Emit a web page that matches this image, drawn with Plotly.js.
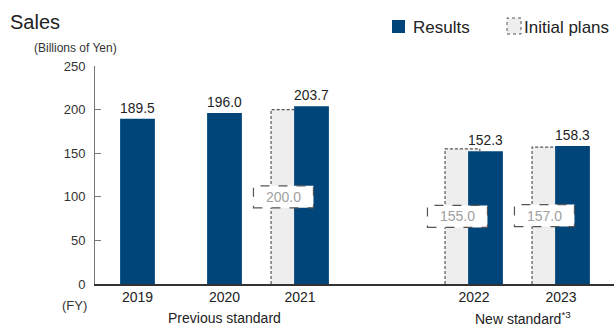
<!DOCTYPE html>
<html>
<head>
<meta charset="utf-8">
<script src="https://cdn.plot.ly/plotly-3.0.1.min.js"></script>
<style>html,body{margin:0;padding:0;background:#fff;}#chart{width:616px;height:327px;}</style>
</head>
<body>
<div id="chart"></div>
<script>
// ---- data ----
const years = ['2019', '2020', '2021', '2022', '2023'];
const slots = [0, 1, 2, 4, 5];            // category slot of each fiscal year (gap between standards)
const results = [189.5, 196.0, 203.7, 152.3, 158.3];
const planYears = ['2021', '2022', '2023'];
const plans = [200.0, 155.0, 157.0];
const groupLabels = ['Previous standard', 'New standard<sup>*3</sup>'];
const groupYears = [['2019', '2020', '2021'], ['2022', '2023']];

// ---- style ----
const FONT = '"Liberation Sans", Arial, sans-serif';
const BLUE = '#00457a';
const PLAN_FILL = '#eeeeee';
const DASH = '#555555';
const BAR_W = 0.40;
const PLAN_OFF = 0.265;

const M = {l: 95, r: 2, t: 66, b: 43};
const W = 616, H = 327;
const PW = W - M.l - M.r, PH = H - M.t - M.b;
const px = x => (x - M.l) / PW;            // page pixel -> paper x
const py = y => (H - M.b - y) / PH;        // page pixel -> paper y

const slotOf = y => slots[years.indexOf(y)];
const planX = planYears.map(y => slotOf(y) - PLAN_OFF);
const resOfPlan = planYears.map(y => results[years.indexOf(y)]);

// dashed outline for plan bars (parts not hidden by the result bar)
const olX = [], olY = [];
planX.forEach((x, i) => {
  const x0 = x - BAR_W / 2, x1 = x + BAR_W / 2;
  const resLeft = slotOf(planYears[i]) - BAR_W / 2;
  if (plans[i] > resOfPlan[i]) {
    olX.push(x0, x0, x1, x1, null);
    olY.push(0, plans[i], plans[i], resOfPlan[i], null);
  } else {
    olX.push(x0, x0, resLeft, null);
    olY.push(0, plans[i], plans[i], null);
  }
});

// tick positions: centre of each year's group
const tickX = years.map(y => {
  const s = slotOf(y);
  return planYears.includes(y) ? s - PLAN_OFF / 2 : s;
});

const traces = [
  {type: 'bar', x: planX, y: plans, width: BAR_W, marker: {color: PLAN_FILL, line: {width: 0}},
   hoverinfo: 'skip', showlegend: false},
  {type: 'bar', x: slots, y: results, width: BAR_W, marker: {color: BLUE, line: {width: 0}},
   text: results.map(v => v.toFixed(1)), textposition: 'outside', cliponaxis: false,
   textfont: {family: FONT, size: 14, color: '#222'}, showlegend: false},
  {type: 'scatter', mode: 'lines', x: olX, y: olY, line: {color: DASH, width: 1.2, dash: '3px,2px'},
   hoverinfo: 'skip', showlegend: false}
];

const shapes = [], annotations = [];
// plan value boxes
planX.forEach((x, i) => {
  shapes.push({type: 'rect', xref: 'x', yref: 'y', xsizemode: 'pixel', ysizemode: 'pixel',
    xanchor: x, yanchor: plans[i] / 2, x0: -35, x1: 25, y0: -11, y1: 11,
    line: {color: DASH, width: 1.2, dash: 'dash'}, fillcolor: '#ffffff', layer: 'above'});
  annotations.push({xref: 'x', yref: 'y', x: x, y: plans[i] / 2, xshift: -5, xanchor: 'center', yanchor: 'middle',
    text: plans[i].toFixed(1), showarrow: false, font: {family: FONT, size: 14, color: '#a0a0a0'}});
});
// group labels
groupLabels.forEach((g, i) => {
  const xs = groupYears[i].map(y => tickX[years.indexOf(y)]);
  const c = i === 0 ? xs[1] : (xs[0] + xs[xs.length - 1]) / 2;
  annotations.push({xref: 'x', yref: 'paper', x: c, y: py(318), xanchor: 'center', yanchor: 'middle', text: g,
    xshift: i === 0 ? 0 : 6, showarrow: false, font: {family: FONT, size: 14, color: '#222'}});
});
// titles
annotations.push({xref: 'paper', yref: 'paper', x: px(8), y: py(22), xanchor: 'left', yanchor: 'middle', text: 'Sales',
  showarrow: false, font: {family: FONT, size: 20, color: '#222'}});
annotations.push({xref: 'paper', yref: 'paper', x: px(75), y: py(48), xanchor: 'center', yanchor: 'middle',
  text: '(Billions of Yen)', showarrow: false, font: {family: FONT, size: 12, color: '#333'}});
annotations.push({xref: 'paper', yref: 'paper', x: px(89), y: py(305), xanchor: 'right', yanchor: 'middle', text: '(FY)',
  showarrow: false, font: {family: FONT, size: 13, color: '#333'}});
// legend
shapes.push({type: 'rect', xref: 'paper', yref: 'paper', x0: px(392), x1: px(405), y0: py(33), y1: py(20),
  fillcolor: BLUE, line: {width: 0}});
annotations.push({xref: 'paper', yref: 'paper', x: px(411), y: py(27), xanchor: 'left', yanchor: 'middle', text: 'Results',
  showarrow: false, font: {family: FONT, size: 17, color: '#222'}});
shapes.push({type: 'rect', xref: 'paper', yref: 'paper', x0: px(507), x1: px(521), y0: py(34), y1: py(18),
  fillcolor: PLAN_FILL, line: {color: DASH, width: 1, dash: 'dot'}});
annotations.push({xref: 'paper', yref: 'paper', x: px(522), y: py(27), xanchor: 'left', yanchor: 'middle', text: 'Initial plans',
  showarrow: false, font: {family: FONT, size: 17, color: '#222'}});

const layout = {
  width: W, height: H,
  margin: M,
  paper_bgcolor: '#fff', plot_bgcolor: '#fff',
  barmode: 'overlay',
  showlegend: false,
  font: {family: FONT, color: '#222'},
  xaxis: {range: [-(137.5 - M.l) / 87, -(137.5 - M.l) / 87 + PW / 87], tickvals: tickX, ticktext: years,
    showgrid: false, zeroline: false, showline: true, linecolor: '#333', linewidth: 1.5,
    ticks: '', tickfont: {family: FONT, size: 14, color: '#222'}, fixedrange: true},
  yaxis: {range: [0, 250], tickvals: [0, 50, 100, 150, 200, 250], showgrid: false, zeroline: false,
    showline: true, linecolor: '#777', linewidth: 1, ticks: 'inside', ticklen: 6, tickcolor: '#777',
    tickfont: {family: FONT, size: 13, color: '#333'}, ticklabelstandoff: 6, fixedrange: true},
  shapes: shapes,
  annotations: annotations
};

Plotly.newPlot('chart', traces, layout, {displayModeBar: false, staticPlot: true});
</script>
</body>
</html>
